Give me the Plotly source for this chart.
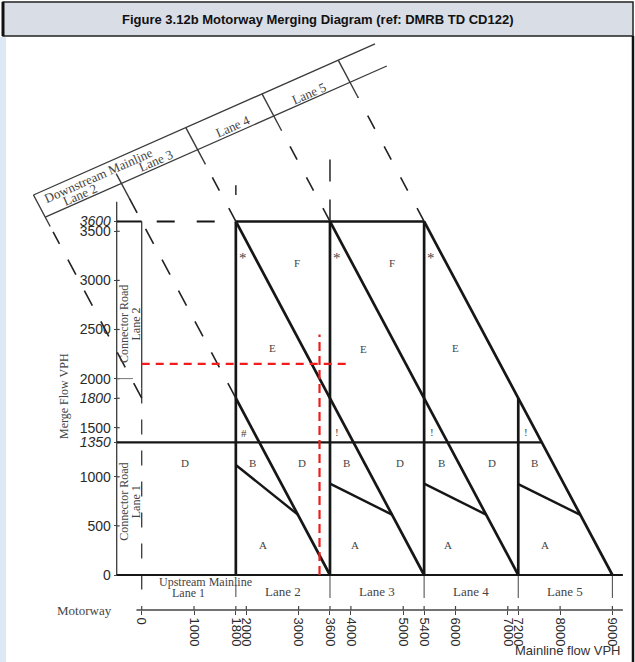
import math
import plotly.graph_objects as go

# ---------------- data ----------------
lane_bounds = [0, 1800, 3600, 5400, 7200, 9000]          # mainline flow VPH at lane boundaries
lane_names = ["Lane 1", "Lane 2", "Lane 3", "Lane 4", "Lane 5"]
merge_max = 3600                                          # merge flow cap (VPH)
merge_lane1 = 1350                                        # connector road lane 1 limit
downstream_caps = [1800, 3600, 5400, 7200, 9000]          # downstream capacity (mainline + merge)
diag_top_x = [0, 1800, 1800, 3600, 5400]                  # where each capacity line turns dashed
diag_solid = [False, True, True, True, True]
ba_start = [1120, 930, 930, 925]                          # B/A boundary at lane start (lanes 2-5)
ba_knee = [615, 615, 615, 612]                            # B/A boundary knee merge flow
y_tickvals = [0, 500, 1000, 1350, 1500, 1800, 2000, 2500, 3000, 3500, 3600]
y_ticktext = ["0", "500", "1000", "<i>1350</i>", "1500", "<i>1800</i>", "2000",
              "2500", "3000", "3500", "<i>3600</i>"]
x_tickvals = [0, 1000, 1800, 2000, 3000, 3600, 4000, 5000, 5400, 6000, 7000, 7200, 8000, 9000]
x_ticktext = [str(v) for v in x_tickvals]
example_merge = 2150          # red example: merge flow
example_mainline = 3400       # red example: mainline flow
example_merge_top = 2450
example_mainline_end = 4000
region_text = ["F", "F", "E", "E", "E", "*", "*", "*", "#", "!", "!", "!",
               "D", "D", "D", "D", "B", "B", "B", "B", "A", "A", "A", "A"]
region_x = [2970, 4790, 2510, 4250, 6000, 1940, 3735, 5530, 1955, 3735, 5545, 7340,
            830, 3060, 4940, 6705, 2120, 3920, 5725, 7505, 2325, 4080, 5850, 7710]
region_y = [3180, 3180, 2310, 2300, 2310, 3230, 3230, 3230, 1445, 1455, 1455, 1455,
            1140, 1140, 1140, 1140, 1140, 1140, 1140, 1140, 305, 305, 305, 305]
band_label_text = ["Lane 2", "Lane 3", "Lane 4", "Lane 5"]
band_label_c = [2700, 4500, 6300, 8100]

# ---------------- geometry / layout constants ----------------
W, H = 635, 662
X0_PX, XS = 141.7, 0.0523       # pixel of mainline 0, px per VPH
Y0_PX, YS = 575.0, 0.0982       # pixel of merge 0, px per VPH
L, R, T, B = 20, 630, 40, 640
x_range = [(L - X0_PX) / XS, (R - X0_PX) / XS]
y_range = [(Y0_PX - B) / YS, (Y0_PX - T) / YS]
YAX_X = (116.7 - X0_PX) / XS    # data x where merge-flow axis sits
MOTOR_Y = (Y0_PX - 610) / YS    # data y of motorway axis line

# skewed downstream-mainline band
band_a, band_b, band_w = 4079.0, 0.2357, 225.0
band_end_c = 9870
band_ext = 150


def band_pt(c, d=0.0):
    xc = (c - band_a) / (1 + band_b)
    yc = c - xc
    return xc + d, yc - d


def pxf(xp):
    return (xp - L) / (R - L)


def pyf(yp):
    return (B - yp) / (B - T)


fig = go.Figure()


def seg(xs, ys, color="#161616", width=2.7, dash="solid"):
    fig.add_trace(go.Scatter(x=xs, y=ys, mode="lines",
                             line=dict(color=color, width=width, dash=dash),
                             hoverinfo="skip", showlegend=False))


THIN = "#3a3a3a"

# merge-flow axis line, inner tick halves and long 2000 tick
seg([YAX_X, YAX_X], [0, 3800], color=THIN, width=1.3)
for v in y_tickvals:
    seg([YAX_X, YAX_X + 3 / XS], [v, v], color="#444", width=1.2)
seg([YAX_X, YAX_X + 310], [2000, 2000], color="#777", width=1)

# connector road line at mainline 0
seg([0, 0], [merge_max, 1900], color=THIN, width=1.3)
seg([0, 0], [1900, -255], color=THIN, width=1.3, dash="15px,16px")

# lane separators below axis
for lb in lane_bounds[2:]:
    seg([lb, lb], [0, -235], color="#555", width=1.1)
seg([lane_bounds[1]] * 2, [-100, -225], color="#555", width=1.1)

# vertical extensions above the top
seg([lane_bounds[2]] * 2, [merge_max, 4290], color="#333", width=1.6, dash="22px,18px")
seg([lane_bounds[1]] * 2, [3870, 3970], color="#333", width=1.6)

# horizontal lines
seg([YAX_X, 0], [merge_max, merge_max], width=2.0)
seg([0, lane_bounds[1]], [merge_max, merge_max], width=2.0, dash="0px,15px,18px,7px")
seg([lane_bounds[1], lane_bounds[-1] - merge_max], [merge_max, merge_max])
seg([YAX_X, lane_bounds[-1] - merge_lane1], [merge_lane1, merge_lane1], width=2.2)
seg([YAX_X, lane_bounds[-1] + 200], [0, 0], width=2.0)

# lane verticals
for lb in lane_bounds[1:5]:
    top = min(merge_max, lane_bounds[-1] - lb)
    seg([lb, lb], [0, top])

# capacity diagonals (solid) + dashed extensions to skewed band
for c, tx, solid in zip(downstream_caps, diag_top_x, diag_solid):
    if solid:
        seg([tx, c], [c - tx, 0])
    bx, by = band_pt(c, band_ext)
    seg([tx, bx], [c - tx, by], color="#222", width=1.6,
        dash="17px,18px" if c <= 3600 else "15px,20px")

# B / A boundaries
for i, lb in enumerate(lane_bounds[1:5]):
    c = downstream_caps[i + 1]
    seg([lb, c - ba_knee[i]], [ba_start[i], ba_knee[i]], width=2.4)

# skewed band
lo0 = band_pt(downstream_caps[0]); lo1 = band_pt(band_end_c)
up0 = band_pt(downstream_caps[0], -band_w); up1 = band_pt(band_end_c, -band_w)
seg([lo0[0], lo1[0]], [lo0[1], lo1[1]], color=THIN, width=1.3)
seg([up0[0], up1[0]], [up0[1], up1[1]], color=THIN, width=1.3)
for c in downstream_caps:
    d0 = -100 if c == 3600 else -band_w
    d1 = 95 if c == 1800 else band_ext
    p0 = band_pt(c, d0); p1 = band_pt(c, d1)
    seg([p0[0], p1[0]], [p0[1], p1[1]], color=THIN, width=1.4)

# motorway axis line with upper tick halves
seg([-100, lane_bounds[-1] + 200], [MOTOR_Y, MOTOR_Y], color="#444", width=1.3)
for v in x_tickvals:
    seg([v, v], [MOTOR_Y, MOTOR_Y + 4 / YS], color="#444", width=1.2)

# red example lines
seg([0, example_mainline_end], [example_merge, example_merge], color="#ee1c1c", width=2.2, dash="8px,6px")
seg([example_mainline, example_mainline], [0, example_merge_top], color="#ee1c1c", width=2.2, dash="9px,5px")

ann = []
SERIF = "Liberation Serif, Times New Roman, serif"
SANS = "Liberation Sans, Arial, sans-serif"

for t, x, y in zip(region_text, region_x, region_y):
    ann.append(dict(x=x, y=y, text=t, showarrow=False, xref="x", yref="y",
                    font=dict(family=SERIF, size=15 if t == "*" else 11, color="#444")))

band_angle = -math.degrees(math.atan(band_b * YS / XS))
for t, c in zip(band_label_text, band_label_c):
    x, y = band_pt(c, -60)
    ann.append(dict(x=x, y=y, text=t, showarrow=False, textangle=band_angle,
                    font=dict(family=SERIF, size=13, color="#444")))
x, y = band_pt(3240, -150)
ann.append(dict(x=x, y=y, text="Downstream Mainline", showarrow=False, textangle=band_angle,
                font=dict(family=SERIF, size=13, color="#444")))

# lane labels below axis
for name, a, b in zip(lane_names[1:], lane_bounds[1:5], lane_bounds[2:]):
    ann.append(dict(x=(a + b) / 2, y=-173, text=name, showarrow=False,
                    font=dict(family=SERIF, size=13, color="#444")))
ann.append(dict(x=(lane_bounds[0] + lane_bounds[1]) / 2, y=-180, text=lane_names[0], showarrow=False,
                font=dict(family=SERIF, size=12, color="#444")))
ann.append(dict(x=1229, y=-68, text="Upstream Mainline", showarrow=False,
                font=dict(family=SERIF, size=12, color="#444")))

# connector road labels
for yc, lane in [(2556, "Lane 2"), (746, "Lane 1")]:
    ann.append(dict(x=(124 - X0_PX) / XS, y=yc, text="Connector Road", showarrow=False, textangle=-90,
                    font=dict(family=SERIF, size=12, color="#444")))
    ann.append(dict(x=(135.5 - X0_PX) / XS, y=yc, text=lane, showarrow=False, textangle=-90,
                    font=dict(family=SERIF, size=12, color="#444")))

# axis titles and misc text (paper coords)
ann.append(dict(x=pxf(64), y=pyf(396), xref="paper", yref="paper", text="Merge Flow VPH",
                xanchor="center", yanchor="middle",
                showarrow=False, textangle=-90, font=dict(family=SERIF, size=12, color="#444")))
ann.append(dict(x=pxf(84), y=pyf(610), xref="paper", yref="paper", text="Motorway",
                xanchor="center", yanchor="middle",
                showarrow=False, font=dict(family=SERIF, size=13, color="#444")))
ann.append(dict(x=pxf(623), y=pyf(650), xref="paper", yref="paper", text="Mainline flow VPH",
                xanchor="right", yanchor="middle", showarrow=False,
                font=dict(family=SANS, size=13, color="#333")))
ann.append(dict(x=pxf(318), y=pyf(19), xref="paper", yref="paper",
                xanchor="center", yanchor="middle",
                text="<b>Figure 3.12b Motorway Merging Diagram (ref: DMRB TD CD122)</b>",
                showarrow=False, font=dict(family=SANS, size=13, color="#111")))

shapes = [
    dict(type="rect", xref="paper", yref="paper", x0=pxf(3), x1=pxf(633), y0=pyf(36), y1=pyf(2),
         fillcolor="#d8dde6", line=dict(color="#222", width=1.5), layer="below"),
    dict(type="rect", xref="paper", yref="paper", x0=pxf(0), x1=pxf(6), y0=pyf(662), y1=pyf(37),
         fillcolor="#dce8f4", line=dict(width=0), layer="below"),
    dict(type="line", xref="paper", yref="paper", x0=pxf(633), x1=pxf(633), y0=pyf(662), y1=pyf(36),
         line=dict(color="#111", width=2.5)),
    dict(type="line", xref="paper", yref="paper", x0=pxf(3), x1=pxf(3), y0=pyf(36), y1=pyf(2),
         line=dict(color="#111", width=3)),
]

fig.update_layout(
    width=W, height=H,
    margin=dict(l=L, r=W - R, t=T, b=H - B),
    paper_bgcolor="white", plot_bgcolor="rgba(0,0,0,0)",
    showlegend=False,
    annotations=ann, shapes=shapes,
    xaxis=dict(range=x_range, anchor="free", position=pyf(610), showgrid=False, zeroline=False,
               showline=False, ticks="outside", ticklen=4, tickwidth=1.2, tickcolor="#444",
               tickvals=x_tickvals, ticktext=x_ticktext, tickangle=90,
               tickfont=dict(family=SANS, size=13, color="#2a2a2a")),
    yaxis=dict(range=y_range, anchor="free", position=pxf(116.7), side="left", showgrid=False,
               zeroline=False, showline=False, ticks="outside", ticklen=3, tickwidth=1.2,
               tickcolor="#444", tickvals=y_tickvals, ticktext=y_ticktext,
               tickfont=dict(family=SANS, size=14, color="#2a2a2a")),
)

fig.write_html("out.html", config={"displayModeBar": False},
               post_script="document.body.style.margin='0px';document.body.style.overflow='hidden';")
